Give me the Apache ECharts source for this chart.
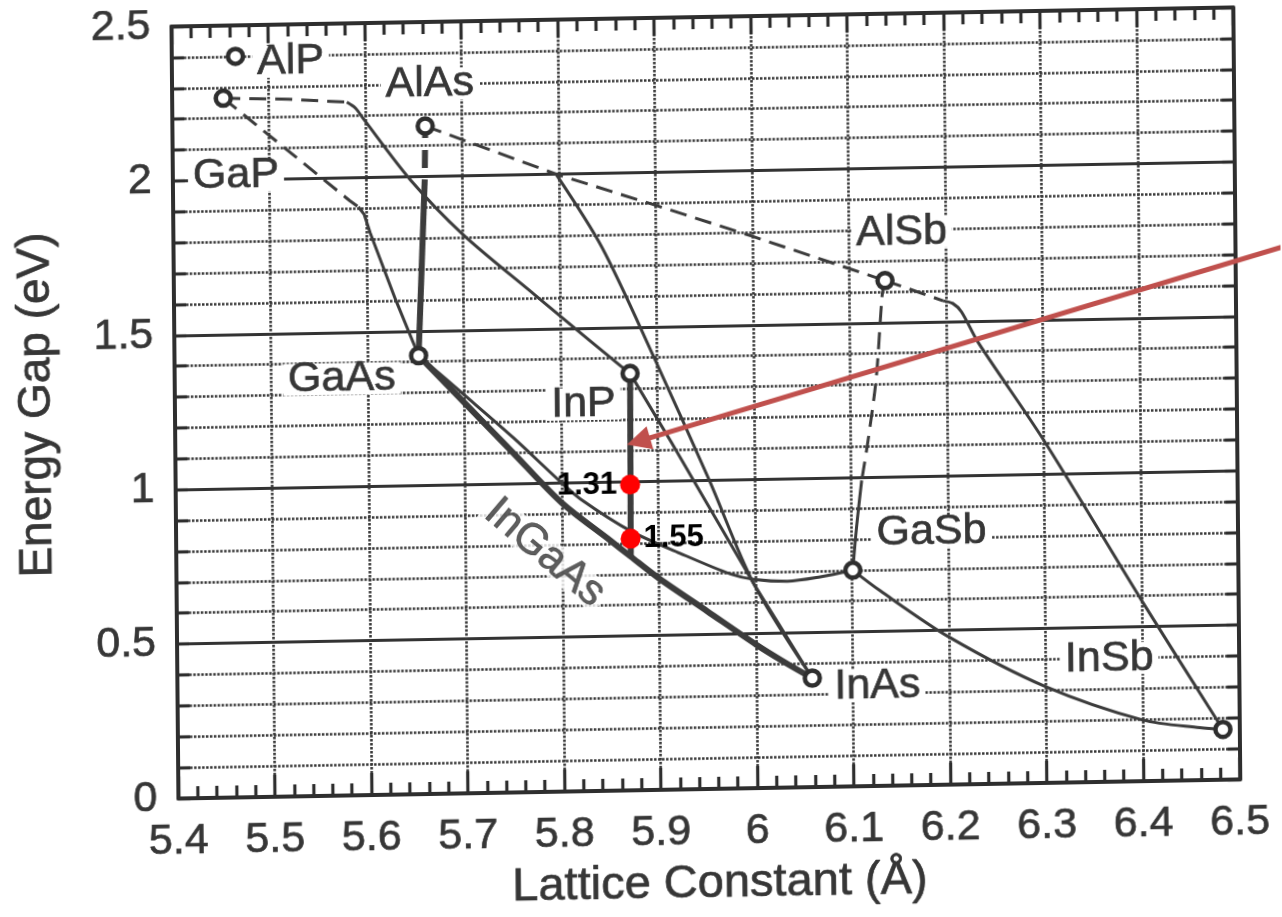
<!DOCTYPE html>
<html>
<head>
<meta charset="utf-8">
<script src="https://cdn.jsdelivr.net/npm/echarts/dist/echarts.min.js"></script>
<style>
html,body{margin:0;padding:0;background:#fff;overflow:hidden;}
#chart{width:1282px;height:917px;transform-origin:705.6px 403px;transform:matrix(1,-0.018,0.009,1,0,0);}
</style>
</head>
<body>
<div id="chart"></div>
<script>
// ---------------- data ----------------
const xMin = 5.4, xMax = 6.5, xStep = 0.1;
const yMin = 0, yMax = 2.5, yStep = 0.1, yLabelStep = 0.5;

const compoundNames   = ['AlP', 'GaP', 'AlAs', 'GaAs', 'InP', 'AlSb', 'GaSb', 'InAs', 'InSb'];
const compoundLattice = [5.466, 5.453, 5.662, 5.653, 5.872, 6.137, 6.101, 6.058, 6.483];
const compoundGap     = [2.40, 2.265, 2.163, 1.42, 1.35, 1.636, 0.70, 0.353, 0.163];

// ternary curves [lattice constant, energy gap]
const gaInP_indirect   = [[5.453, 2.265], [5.52, 2.258], [5.581, 2.245]];
const gaInP_direct     = [[5.581, 2.245], [5.59, 2.225], [5.598, 2.19], [5.646, 1.99], [5.70, 1.81], [5.774, 1.61], [5.80, 1.54], [5.8625, 1.374], [5.872, 1.35]];
const gaAsP_indirect   = [[5.453, 2.265], [5.583, 1.926], [5.592, 1.905]];
const gaAsP_direct     = [[5.592, 1.905], [5.598, 1.88], [5.604, 1.82], [5.63, 1.60], [5.653, 1.42]];
const alGaAs_indirect  = [[5.662, 2.163], [5.661, 1.99]];
const alGaAs_direct    = [[5.661, 1.99], [5.653, 1.42]];
const inGaAsP_onInP    = [[5.872, 1.35], [5.871, 0.757]];
const alAsSb_indirect  = [[5.662, 2.163], [5.797, 2.0], [5.90, 1.893], [6.0, 1.787], [6.137, 1.636]];
const alInAs_direct    = [[5.797, 2.0], [5.844, 1.76], [5.897, 1.40], [5.953, 1.0], [5.998, 0.663], [6.058, 0.353]];
const inAsP            = [[5.872, 1.35], [5.914, 1.125], [5.998, 0.663], [6.058, 0.353]];
const inGaAs           = [[5.653, 1.42], [5.70, 1.265], [5.75, 1.10], [5.80, 0.935], [5.85, 0.81], [5.871, 0.757], [5.90, 0.685], [5.95, 0.575], [6.0, 0.465], [6.03, 0.405], [6.058, 0.353]];
const gaAsSb           = [[5.653, 1.42], [5.70, 1.29], [5.75, 1.15], [5.80, 1.0], [5.82, 0.945], [5.871, 0.84], [5.922, 0.765], [5.974, 0.695], [6.0, 0.675], [6.033, 0.668], [6.067, 0.68], [6.101, 0.70]];
const alGaSb_indirect  = [[6.137, 1.636], [6.134, 1.59], [6.127, 1.32], [6.118, 1.12], [6.111, 0.99]];
const alGaSb_direct    = [[6.111, 0.99], [6.105, 0.832], [6.101, 0.70]];
const alInSb_indirect  = [[6.137, 1.636], [6.197, 1.567]];
const alInSb_direct    = [[6.197, 1.567], [6.207, 1.558], [6.216, 1.53], [6.233, 1.43], [6.30, 1.11], [6.40, 0.585], [6.483, 0.163]];
const gaInSb           = [[6.101, 0.70], [6.129, 0.632], [6.2, 0.478], [6.3, 0.311], [6.4, 0.198], [6.459, 0.17], [6.483, 0.163]];

const redDotLattice = [5.871, 5.871];
const redDotGap     = [0.99, 0.815];
const redDotLabels  = ['1.31', '1.55'];

// arrow shaft from beyond the right edge to the centre of the arrow head
const arrowFrom = [6.57, 1.74];
const arrowTo   = [5.880, 1.130];

const curveLabelText = 'InGaAs';
const curveLabelAt   = [5.782, 0.774];

// ---------------- styles ----------------
const FONT = 'Liberation Sans';
const INK = '#3c3c3c';
const TEXT = '#363636';
const labelOffsets = {
  AlP: [55, 6], GaP: [12, 78], AlAs: [5, -42], GaAs: [-77, 22], InP: [-47, 30],
  AlSb: [17, -48], GaSb: [79, -37], InAs: [65, 9], InSb: [-113, -73]
};

function curve(data, width, dashed, extra) {
  const ls = { color: INK, width: width, type: dashed ? [17, 9] : 'solid' };
  return Object.assign({
    type: 'line', data: data, showSymbol: false, symbol: 'none', silent: true,
    xAxisIndex: 0, yAxisIndex: 0, z: 3, lineStyle: ls
  }, extra || {});
}

const frameLine = { show: true, onZero: false, lineStyle: { color: '#2e2e2e', width: 4 } };
const tickStyle = { color: '#2e2e2e', width: 3.2 };
const dottedGrid = { show: true, lineStyle: { color: '#383838', width: 2.6, type: [2.5, 1.5] } };
const heavyText = { textBorderColor: TEXT, textBorderWidth: 0.7 };

const option = {
  animation: false,
  backgroundColor: '#fff',
  textStyle: { fontFamily: FONT },
  grid: { left: 175, right: 45.5, top: 17, bottom: 128, containLabel: false, outerBoundsMode: 'none' },
  xAxis: [
    {
      type: 'value', min: xMin, max: xMax, interval: xStep, position: 'bottom',
      axisLine: frameLine,
      axisTick: { show: true, inside: true, length: 22, lineStyle: tickStyle },
      minorTick: { show: true, splitNumber: 5, length: 12, lineStyle: tickStyle },
      axisLabel: Object.assign({ show: true, fontFamily: FONT, fontSize: 43, color: TEXT, margin: 22, showMinLabel: true, showMaxLabel: true, hideOverlap: false }, heavyText),
      splitLine: dottedGrid,
      minorSplitLine: { show: false },
      name: 'Lattice Constant (Å)', nameLocation: 'middle', nameGap: 72,
      nameTextStyle: Object.assign({ fontFamily: FONT, fontSize: 47, color: TEXT, padding: [0, 0, 0, 20] }, heavyText)
    },
    {
      type: 'value', min: xMin, max: xMax, interval: xStep, position: 'top',
      axisLine: frameLine,
      axisTick: { show: true, inside: true, length: 18, lineStyle: tickStyle },
      minorTick: { show: true, splitNumber: 5, length: 12, lineStyle: tickStyle },
      axisLabel: { show: false },
      splitLine: { show: false }
    }
  ],
  yAxis: [
    {
      type: 'value', min: yMin, max: yMax, interval: yStep, position: 'left',
      axisLine: frameLine,
      axisTick: { show: true, inside: true, length: 12, lineStyle: tickStyle },
      axisLabel: Object.assign({
        show: true, fontFamily: FONT, fontSize: 43, color: TEXT, margin: 21, showMinLabel: true, showMaxLabel: true, hideOverlap: false,
        formatter: function (v) {
          const r = Math.round(v * 10);
          return (r % Math.round(yLabelStep * 10) === 0) ? String(r / 10) : '';
        }
      }, heavyText),
      splitLine: dottedGrid,
      name: 'Energy Gap (eV)', nameLocation: 'middle', nameGap: 115,
      nameTextStyle: Object.assign({ fontFamily: FONT, fontSize: 46, color: TEXT, padding: [0, 0, 0, 20] }, heavyText)
    },
    {
      type: 'value', min: yMin, max: yMax, interval: yStep, position: 'right',
      axisLine: frameLine,
      axisTick: { show: true, inside: true, length: 12, lineStyle: tickStyle },
      axisLabel: { show: false },
      splitLine: { show: false }
    },
    {
      type: 'value', min: yMin, max: yMax, interval: yLabelStep, position: 'left',
      axisLine: { show: false, onZero: false },
      axisTick: { show: false },
      axisLabel: { show: false },
      splitLine: { show: true, lineStyle: { color: '#333', width: 2.8, type: 'solid' } }
    }
  ],
  series: [
    curve(gaInP_indirect, 3, true),
    curve(gaInP_direct, 3, false, { smooth: 0.3 }),
    curve(gaAsP_indirect, 3, true),
    curve(gaAsP_direct, 3, false),
    curve(alGaAs_indirect, 6, false, { lineStyle: { color: INK, width: 6, type: [18, 12], dashOffset: 6 } }),
    curve(alGaAs_direct, 6, false),
    curve(inGaAsP_onInP, 6, false),
    curve(alAsSb_indirect, 3, true),
    curve(alInAs_direct, 3, false, { smooth: 0.3 }),
    curve(inAsP, 3, false),
    curve(inGaAs, 6, false, { smooth: 0.3 }),
    curve(gaAsSb, 3, false, { smooth: 0.3 }),
    curve(alGaSb_indirect, 3, true, { smooth: 0.3 }),
    curve(alGaSb_direct, 3, false, { smooth: 0.3 }),
    curve(alInSb_indirect, 3, true),
    curve(alInSb_direct, 3, false, { smooth: 0.3 }),
    curve(gaInSb, 3, false, { smooth: 0.3 }),
    {
      type: 'scatter', silent: true, z: 5,
      data: compoundNames.map(function (n, i) {
        return { name: n, value: [compoundLattice[i], compoundGap[i]], label: { offset: labelOffsets[n] } };
      }),
      symbol: 'circle', symbolSize: 15,
      itemStyle: { color: '#fff', borderColor: '#2e2e2e', borderWidth: 4.5, opacity: 1 },
      label: Object.assign({
        show: true, position: 'inside', formatter: '{b}', fontFamily: FONT, fontSize: 43, color: TEXT,
        backgroundColor: '#fff', padding: [0, 5], lineHeight: 32
      }, heavyText)
    },
    {
      type: 'scatter', silent: true, z: 5,
      data: [{ name: curveLabelText, value: curveLabelAt }],
      symbolSize: 1, itemStyle: { color: 'rgba(0,0,0,0)' },
      label: Object.assign({
        show: true, position: 'inside', formatter: '{b}', rotate: -41, fontFamily: FONT, fontSize: 43, color: TEXT,
        backgroundColor: '#fff', padding: [0, 4], lineHeight: 32
      }, heavyText)
    },
    {
      type: 'lines', coordinateSystem: 'cartesian2d', xAxisIndex: 0, yAxisIndex: 0, clip: false, silent: true, z: 8,
      symbol: ['none', 'triangle'], symbolSize: [8, 24],
      lineStyle: { color: '#c0504d', width: 5, opacity: 1, curveness: 0 },
      data: [{ coords: [arrowFrom, arrowTo] }]
    },
    {
      type: 'scatter', silent: true, z: 9,
      data: redDotLattice.map(function (x, i) {
        return { name: redDotLabels[i], value: [x, redDotGap[i]], label: { position: i === 0 ? 'left' : 'right' } };
      }),
      symbol: 'circle', symbolSize: 20,
      itemStyle: { color: '#ff0000', opacity: 1 },
      label: { show: true, formatter: '{b}', fontFamily: FONT, fontSize: 31, fontWeight: 'bold', color: '#000', distance: 3 }
    }
  ]
};

const chart = echarts.init(document.getElementById('chart'), null, { renderer: 'canvas' });
chart.setOption(option);
</script>
</body>
</html>
